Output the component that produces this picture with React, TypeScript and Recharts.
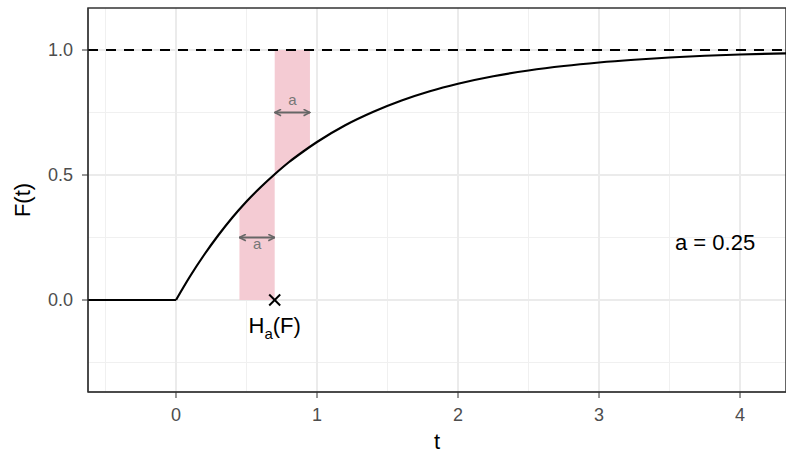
import React from 'react';
import {
  ComposedChart,
  Line,
  Area,
  Scatter,
  XAxis,
  YAxis,
  CartesianGrid,
  ReferenceLine,
  ReferenceDot,
  ReferenceArea,
} from 'recharts';

// axis setup
const tTicks = [0, 1, 2, 3, 4];
const tMinor = [-0.5, 0.5, 1.5, 2.5, 3.5];
const fTicks = [0, 0.5, 1];
const fMinor = [-0.25, 0.25, 0.75];
const tDomain = [-0.624, 4.326];
const fDomain = [-0.368, 1.168];

// F(t) before zero
const flatT = [-0.7, 0];
const flatF = [0, 0];

// F(t) from zero on
const curveT = [0, 0.1, 0.2, 0.3, 0.4, 0.5, 0.6, 0.7, 0.8, 0.9, 1.0, 1.2, 1.4, 1.6, 1.8, 2.0, 2.25, 2.5, 2.75, 3.0, 3.25, 3.5, 3.75, 4.0, 4.35];
const curveF = [0, 0.095, 0.181, 0.259, 0.33, 0.394, 0.451, 0.503, 0.551, 0.593, 0.632, 0.699, 0.753, 0.798, 0.835, 0.865, 0.895, 0.918, 0.936, 0.95, 0.961, 0.97, 0.977, 0.982, 0.987];

// shaded bands either side of H_a(F)
const lowBandT = [0.45, 0.5, 0.55, 0.6, 0.65, 0.7];
const lowBandF = [0.362, 0.394, 0.423, 0.451, 0.478, 0.503];
const highBandT = [0.7, 0.75, 0.8, 0.85, 0.9, 0.95];
const highBandF = [0.503, 0.528, 0.551, 0.573, 0.593, 0.613];

// double arrows of width a
const lowArrowT = [0.45, 0.7];
const lowArrowF = [0.25, 0.25];
const highArrowT = [0.7, 0.95];
const highArrowF = [0.75, 0.75];

const hT = 0.7;
const hF = 0;
const upperLevel = 1;

const FONT = '"Liberation Sans", Arial, Helvetica, sans-serif';

const flatData = flatT.map((t, i) => ({ t, f: flatF[i] }));
const curveData = curveT.map((t, i) => ({ t, f: curveF[i] }));
const lowBand = lowBandT.map((t, i) => ({ t, band: [0, lowBandF[i]] }));
const highBand = highBandT.map((t, i) => ({ t, band: [highBandF[i], upperLevel] }));
const lowArrow = lowArrowT.map((t, i) => ({ t, f: lowArrowF[i] }));
const highArrow = highArrowT.map((t, i) => ({ t, f: highArrowF[i] }));
const hPoint = [{ t: hT, f: hF }];

const CrossMark = ({ cx, cy }: any) => (
  <g stroke="#000" strokeWidth={2}>
    <line x1={cx - 5.5} y1={cy - 5.5} x2={cx + 5.5} y2={cy + 5.5} />
    <line x1={cx - 5.5} y1={cy + 5.5} x2={cx + 5.5} y2={cy - 5.5} />
  </g>
);

// text centred (on its capitals) at the given data point
const textAt = (content: React.ReactNode, size: number, fill: string) => ({ cx, cy }: any) => (
  <text x={cx} y={cy} dy="0.36em" textAnchor="middle" fontSize={size} fill={fill} fontFamily={FONT}>
    {content}
  </text>
);

const XTitle = ({ viewBox }: any) => (
  <text x={viewBox.x + viewBox.width / 2} y={viewBox.y + 49} dy="0.36em" textAnchor="middle" fontSize={22} fill="#000" fontFamily={FONT}>
    t
  </text>
);

const YTitle = ({ viewBox }: any) => {
  const cx = viewBox.x + 22;
  const cy = viewBox.y + viewBox.height / 2;
  return (
    <text x={cx} y={cy} dy="0.36em" textAnchor="middle" fontSize={22} fill="#000" fontFamily={FONT} transform={`rotate(-90 ${cx} ${cy})`}>
      F(t)
    </text>
  );
};

export default function App() {
  return (
    <div style={{ position: 'absolute', left: 0, top: 0, width: 786, height: 454, background: '#fff' }}>
      <ComposedChart
        width={786}
        height={454}
        margin={{ top: 8, right: 0, bottom: 0, left: 0 }}
        style={{ fontFamily: FONT }}
      >
        <defs>
          <marker id="arrowHead" viewBox="0 0 10 10" refX="9" refY="5" markerWidth="8" markerHeight="8" orient="auto-start-reverse" markerUnits="userSpaceOnUse">
            <path d="M1,1 L9,5 L1,9" fill="none" stroke="#666" strokeWidth={2} />
          </marker>
        </defs>
        <CartesianGrid stroke="#F0F0F0" strokeWidth={1} verticalValues={tMinor} horizontalValues={fMinor} />
        <CartesianGrid stroke="#EBEBEB" strokeWidth={2} verticalValues={tTicks} horizontalValues={fTicks} />
        <XAxis
          dataKey="t"
          type="number"
          domain={tDomain}
          allowDataOverflow
          ticks={tTicks}
          height={62}
          tickSize={6}
          tickMargin={10}
          stroke="#333"
          tick={{ fill: '#4D4D4D', fontSize: 18 }}
          label={<XTitle />}
        />
        <YAxis
          dataKey="f"
          type="number"
          domain={fDomain}
          allowDataOverflow
          ticks={fTicks}
          width={88}
          tickSize={6}
          tickMargin={9}
          stroke="#333"
          tickFormatter={(v: number) => v.toFixed(1)}
          tick={{ fill: '#4D4D4D', fontSize: 18 }}
          label={<YTitle />}
        />
        <Area data={lowBand} dataKey="band" type="linear" stroke="none" fill="#F4CBD3" fillOpacity={1} isAnimationActive={false} />
        <Area data={highBand} dataKey="band" type="linear" stroke="none" fill="#F4CBD3" fillOpacity={1} isAnimationActive={false} />
        <ReferenceLine y={upperLevel} stroke="#000" strokeWidth={2.2} strokeDasharray="10 8" />
        <Line data={flatData} dataKey="f" type="linear" stroke="#000" strokeWidth={2.2} dot={false} isAnimationActive={false} />
        <Line data={curveData} dataKey="f" type="monotone" stroke="#000" strokeWidth={2.2} dot={false} isAnimationActive={false} />
        <Line data={lowArrow} dataKey="f" type="linear" stroke="#666" strokeWidth={2} dot={false} markerStart="url(#arrowHead)" markerEnd="url(#arrowHead)" isAnimationActive={false} />
        <Line data={highArrow} dataKey="f" type="linear" stroke="#666" strokeWidth={2} dot={false} markerStart="url(#arrowHead)" markerEnd="url(#arrowHead)" isAnimationActive={false} />
        <Scatter data={hPoint} dataKey="f" shape={CrossMark} isAnimationActive={false} />
        <ReferenceDot x={0.575} y={0.224} shape={textAt('a', 15, '#777')} />
        <ReferenceDot x={0.825} y={0.8} shape={textAt('a', 15, '#777')} />
        <ReferenceDot
          x={hT}
          y={-0.102}
          shape={textAt(
            <>
              H<tspan fontSize={15} dy={6}>a</tspan>
              <tspan dy={-6}>(F)</tspan>
            </>,
            22,
            '#000'
          )}
        />
        <ReferenceDot x={3.823} y={0.23} shape={textAt('a = 0.25', 22, '#000')} />
        <ReferenceArea x1={tDomain[0]} x2={tDomain[1]} y1={fDomain[0]} y2={fDomain[1]} fill="none" stroke="#333" strokeWidth={1.5} />
      </ComposedChart>
    </div>
  );
}
